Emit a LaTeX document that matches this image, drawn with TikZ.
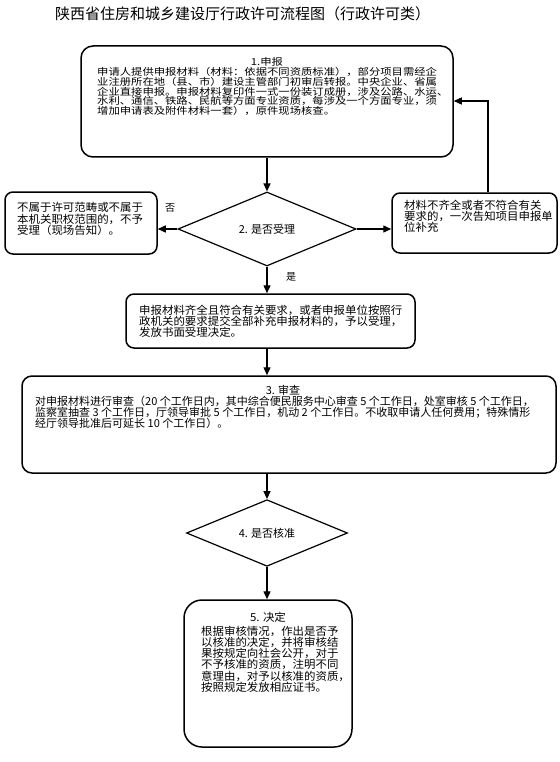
\documentclass[tikz,border=0pt]{standalone}
\usepackage{fontspec}
\setmainfont{Noto Sans CJK SC}
\newfontfamily\cjk{Noto Sans CJK SC}
\newfontfamily\cjkw[FakeStretch=1.18]{Noto Sans CJK SC}
\newfontfamily\cjkn[FakeStretch=1.04]{Noto Sans CJK SC}
\usetikzlibrary{shapes.geometric,arrows.meta,calc}
\begin{document}
\begin{tikzpicture}[x=1pt,y=-1pt,
  rbox/.style={draw, line width=1.5pt, rounded corners=#1, inner sep=0pt},
  rbox/.default=8pt,
  dia/.style={draw, diamond, line width=1.2pt, inner sep=0pt, font=\cjk\fontsize{11}{11}\selectfont},
  arr/.style={line width=1.4pt, -{Triangle[length=8pt,width=7pt]}},
  txt/.style={inner sep=0pt, align=left, anchor=north west, font=\cjkn\fontsize{11}{11.3}\selectfont},
  txtw/.style={inner sep=0pt, align=left, anchor=north west, font=\cjkw\fontsize{9.6}{9.6}\selectfont},
  lbl/.style={inner sep=0pt, font=\cjk\fontsize{10}{10}\selectfont},
]
\useasboundingbox (0,0) rectangle (559,762);
\fill[white] (0,0) rectangle (559,762);

% title
\node[inner sep=0pt, font=\cjk\fontsize{15}{15}\selectfont] (title) at (242.5,14) {陕西省住房和城乡建设厅行政许可流程图（行政许可类）};

% box 1
\node[rbox=12pt, minimum width=372pt, minimum height=111pt] (b1) at (267,101.5) {};
\node[txtw, anchor=north] (b1h) at (267,57.5) {1.申报};
\node[txtw] (b1t) at (97,67.5) {申请人提供申报材料（材料：依据不同资质标准），部分项目需经企\\
业注册所在地（县、市）建设主管部门初审后转报。中央企业、省属\\
企业直接申报。申报材料复印件一式一份装订成册，涉及公路、水运、\\
水利、通信、铁路、民航等方面专业资质，每涉及一个方面专业，须\\
增加申请表及附件材料一套），原件现场核查。};

% diamond 2
\node[dia, minimum width=178pt, minimum height=74pt] (d2) at (267,229) {2. 是否受理};

% left box
\node[rbox=8pt, minimum width=152pt, minimum height=62pt] (lb) at (81,223) {};
\node[txt] (lbt) at (17,202.5) {不属于许可范畴或不属于\\本机关职权范围的，不予\\受理（现场告知）。};

% right box
\node[rbox=8pt, minimum width=165pt, minimum height=60pt] (rb) at (474.5,223) {};
\node[txt] (rbt) at (404,199.5) {材料不齐全或者不符合有关\\要求的，一次告知项目申报单\\位补充};

% labels
\node[lbl] (no) at (170,208) {否};
\node[lbl] (yes) at (291,277) {是};

% box 2 (accepted)
\node[rbox=8pt, minimum width=289pt, minimum height=54pt] (b2) at (270.5,321) {};
\node[txt] (b2t) at (139,304.5) {申报材料齐全且符合有关要求，或者申报单位按照行\\政机关的要求提交全部补充申报材料的，予以受理，\\发放书面受理决定。};

% box 3
\node[rbox=10pt, minimum width=534pt, minimum height=97pt] (b3) at (289,424.5) {};
\node[inner sep=0pt, anchor=north, font=\cjk\fontsize{11}{11.3}\selectfont] (b3h) at (283,384.5) {3. 审查};
\node[inner sep=0pt, align=left, anchor=north west, font=\cjk\fontsize{11}{11.3}\selectfont] (b3t) at (35,395.5) {对申报材料进行审查（20 个工作日内，其中综合便民服务中心审查 5 个工作日，处室审核 5 个工作日，\\
监察室抽查 3 个工作日，厅领导审批 5 个工作日，机动 2 个工作日。不收取申请人任何费用；特殊情形\\
经厅领导批准后可延长 10 个工作日）。};

% diamond 4
\node[dia, minimum width=161pt, minimum height=57pt] (d4) at (267,533) {4. 是否核准};

% box 5
\node[rbox=18pt, minimum width=168pt, minimum height=147pt] (b5) at (268,673.5) {};
\node[inner sep=0pt, anchor=north, font=\cjkn\fontsize{11}{11}\selectfont] (b5h) at (268,611.5) {5. 决定};
\node[txt] (b5t) at (201,625.5) {根据审核情况，作出是否予\\以核准的决定，并将审核结\\果按规定向社会公开，对于\\不予核准的资质，注明不同\\意理由，对予以核准的资质，\\按照规定发放相应证书。};

% connectors
\draw[arr] (b1.south) -- (d2.north);
\draw[arr] (d2.west) -- (d2.west -| lb.east);
\draw[arr] (d2.east) -- (d2.east -| rb.west);
\draw[arr] (d2.south) -- (d2.south |- b2.north);
\draw[arr] (b2.south -| d2.south) -- (d2.south |- b3.north);
\draw[arr] (b3.south -| d4.north) -- (d4.north);
\draw[arr] (d4.south) -- (d4.south |- b5.north);
\coordinate (fb) at (488,101);
\draw[arr] (rb.north -| fb) -- (fb) -- (b1.east |- fb);
\end{tikzpicture}
\end{document}
